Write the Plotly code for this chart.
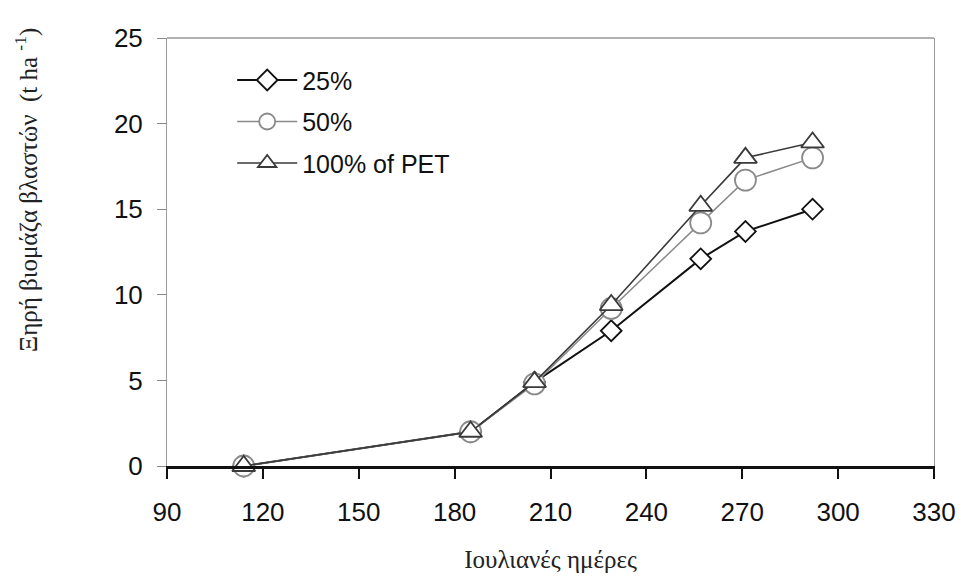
import plotly.graph_objects as go

days = [114, 185, 205, 229, 257, 271, 292]
s25 = [0.0, 2.0, 4.9, 7.9, 12.1, 13.7, 15.0]
s50 = [0.0, 2.0, 4.8, 9.2, 14.2, 16.7, 18.0]
s100 = [0.0, 2.0, 4.9, 9.4, 15.2, 18.0, 18.9]
names = ["25%", "50%", "100% of PET"]

xticks = [90, 120, 150, 180, 210, 240, 270, 300, 330]
yticks = [0, 5, 10, 15, 20, 25]

fig = go.Figure()
styles = [
    (s25, "diamond", 16, "#111111", 2.0),
    (s50, "circle", 21, "#8a8a8a", 1.5),
    (s100, "triangle-up", 20, "#3a3a3a", 1.6),
]
for i, (vals, sym, sz, col, lw) in enumerate(styles):
    fig.add_trace(go.Scatter(
        x=days, y=vals, name=names[i], mode="lines+markers",
        legendgroup=f"g{i}",
        line=dict(color=col, width=lw),
        marker=dict(symbol=sym, size=sz, color="white",
                    line=dict(color=col, width=1.8)),
        cliponaxis=False,
    ))

tickfont = dict(family="Liberation Sans, Arial, sans-serif", size=26, color="#111111")
serif = "Liberation Serif, Times New Roman, serif"
fig.update_layout(
    width=968, height=582,
    margin=dict(l=167, r=31, t=38, b=116),
    paper_bgcolor="white", plot_bgcolor="white",
    showlegend=True,
    legend=dict(x=0.085, y=0.955, xanchor="left", yanchor="top",
                font=dict(family="Liberation Sans, Arial, sans-serif", size=25, color="#111111"),
                bgcolor="rgba(0,0,0,0)", itemwidth=60, tracegroupgap=6),
    xaxis=dict(range=[90, 330], tickmode="array", tickvals=xticks,
               ticktext=[str(t) for t in xticks], tickfont=tickfont,
               showgrid=False, zeroline=False,
               showline=True, linecolor="#111111", linewidth=3,
               ticks="outside", ticklen=10, tickwidth=1.5, tickcolor="#111111",
               ticklabelstandoff=11,
               title=dict(text="Ιουλιανές ημέρες",
                          font=dict(family=serif, size=25, color="#222222"),
                          standoff=25)),
    yaxis=dict(range=[0, 25], tickmode="array", tickvals=yticks,
               ticktext=[str(t) for t in yticks], tickfont=tickfont,
               showgrid=False, zeroline=False,
               showline=True, linecolor="#999999", linewidth=1, mirror=True,
               ticks="outside", ticklen=9, tickwidth=1, tickcolor="#888888",
               ticklabelstandoff=9),
    shapes=[dict(type="line", xref="paper", yref="paper", x0=0, x1=1, y0=1, y1=1,
                 line=dict(color="#999999", width=1.5))],
    annotations=[dict(text="Ξηρή βιομάζα βλαστών  (t ha <sup>-1</sup>)",
                      xref="paper", yref="paper", x=0, y=0.645, xshift=-140,
                      xanchor="center", yanchor="middle", textangle=-90, showarrow=False,
                      font=dict(family=serif, size=25, color="#222222"))],
)

fig.write_html("out.html")
